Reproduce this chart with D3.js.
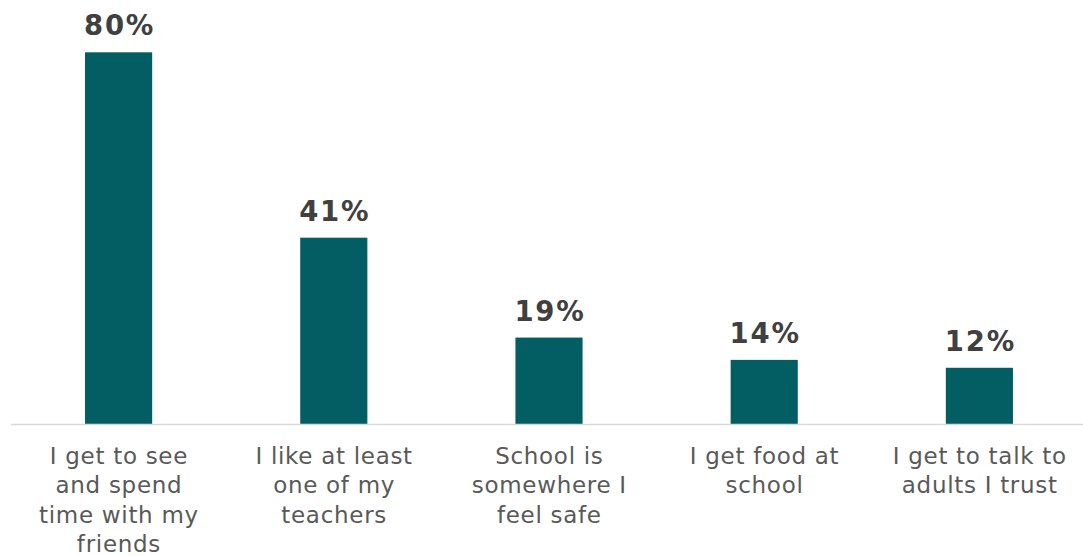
<!DOCTYPE html>
<html><head><meta charset="utf-8">
<script src="https://cdn.jsdelivr.net/npm/d3@7"></script>
<style>html,body{margin:0;padding:0;background:#fff;}svg{display:block;}</style>
</head><body>
<svg id="chart" width="1083" height="556"></svg>
<script>
const categories = [
  ["I get to see", "and spend", "time with my", "friends"],
  ["I like at least", "one of my", "teachers"],
  ["School is", "somewhere I", "feel safe"],
  ["I get food at", "school"],
  ["I get to talk to", "adults I trust"]
];
const values = [80, 40.1, 18.6, 13.8, 12.1];
const valueLabels = ["80%", "41%", "19%", "14%", "12%"];

const svg = d3.select("#chart");
const x = d3.scaleBand().domain(d3.range(values.length)).range([11, 1087]).paddingInner(0.688).paddingOuter(0.344);
const y = d3.scaleLinear().domain([0, 80]).range([424, 52.3]);

svg.selectAll("rect.bar").data(values).join("rect")
  .attr("class", "bar")
  .attr("x", (d, i) => x(i))
  .attr("width", x.bandwidth())
  .attr("y", d => y(d))
  .attr("height", d => y(0) - y(d))
  .attr("fill", "#025e62");

svg.append("line").attr("x1", 11).attr("x2", 1083).attr("y1", 424.5).attr("y2", 424.5)
  .attr("stroke", "#d9d9d9").attr("stroke-width", 1.5);

svg.selectAll("text.val").data(values).join("text")
  .attr("class", "val")
  .attr("x", (d, i) => x(i) + x.bandwidth() / 2 + 1)
  .attr("y", d => y(d) - 17)
  .attr("text-anchor", "middle")
  .attr("font-family", "'DejaVu Sans', Verdana, sans-serif")
  .attr("font-weight", "bold")
  .attr("font-size", "27.5px")
  .attr("letter-spacing", "1.8px")
  .attr("fill", "#404040")
  .text((d, i) => valueLabels[i]);

const cat = svg.selectAll("text.cat").data(categories).join("text")
  .attr("class", "cat")
  .attr("text-anchor", "middle")
  .attr("font-family", "'DejaVu Sans', Verdana, sans-serif")
  .attr("font-size", "23px")
  .attr("letter-spacing", "0.7px")
  .attr("fill", "#595959");
cat.each(function(lines, i) {
  d3.select(this).selectAll("tspan").data(lines).join("tspan")
    .attr("x", x(i) + x.bandwidth() / 2 + 0.35)
    .attr("y", (l, j) => 464 + j * 29.4)
    .text(l => l);
});
</script>
</body></html>
